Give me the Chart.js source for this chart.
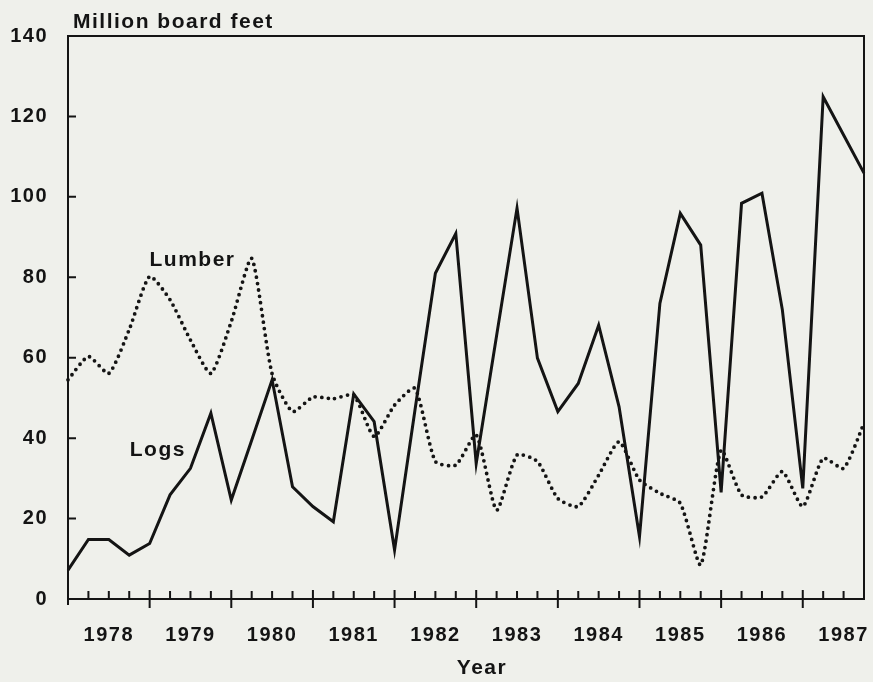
<!DOCTYPE html>
<html lang="en">
<head>
  <meta charset="UTF-8" />
  <title>Million board feet</title>
  <script src="https://cdn.jsdelivr.net/npm/chart.js"></script>
  <style>
    * { box-sizing: border-box; }
    body {
      margin: 0;
      background: #eff0eb;
    }
    canvas { display: block; }
  </style>
</head>
<body>
  <canvas id="lineChart" width="873" height="682"></canvas>

  <script>
    // quarterly values, 1978 Q1 .. 1987 Q4
    const years = ['1978', '1979', '1980', '1981', '1982', '1983', '1984', '1985', '1986', '1987'];
    const quarters = years.flatMap(y => ['Q1', 'Q2', 'Q3', 'Q4'].map(q => y + ' ' + q));

    const logs = [
      7.2, 14.8, 14.8, 10.9, 13.8, 25.9, 32.5, 46.2, 24.6, 39.5,
      54.5, 27.9, 23, 19.2, 51, 44.1, 12.2, 47, 81, 90.9,
      33.7, 65.5, 97.2, 59.9, 46.6, 53.6, 68.1, 47.8, 15.5, 73.5,
      95.9, 88, 26.5, 98.4, 100.9, 71.9, 27.5, 124.9, 115.4, 105.9
    ];
    const lumber = [
      54.5, 60.3, 56.1, 67, 80.2, 74.4, 64.4, 56.1, 69, 84.7,
      56, 46.6, 50.2, 49.8, 50.7, 40.4, 48.2, 52.4, 34.2, 33.3,
      40.8, 22.1, 35.8, 34.2, 25, 23, 30.8, 39.1, 29.6, 26.3,
      23.8, 8.5, 37, 25.9, 25.4, 31.7, 23, 35, 32.5, 43.7
    ];
    const yTicks = [0, 20, 40, 60, 80, 100, 120, 140];

    const ink = '#141414';
    const fontFamily = '"Liberation Sans", Arial, sans-serif';

    const framePlugin = {
      id: 'frame',
      beforeDraw(chart) {
        chart.ctx.letterSpacing = '1.5px';
      },
      afterDraw(chart) {
        const ctx = chart.ctx;
        const a = chart.chartArea;
        const xs = chart.scales.x;
        const ys = chart.scales.y;
        ctx.save();
        ctx.strokeStyle = ink;
        ctx.lineWidth = 2;
        ctx.strokeRect(a.left, a.top, a.right - a.left, a.bottom - a.top);

        ctx.beginPath();
        ctx.moveTo(a.left, a.bottom);
        ctx.lineTo(a.left, a.bottom + 6);
        quarters.forEach((q, i) => {
          if (i === 0) return;
          const px = xs.getPixelForValue(i);
          if (i % 4 === 0) {
            ctx.moveTo(px, a.bottom - 9);
            ctx.lineTo(px, a.bottom + 9);
          } else {
            ctx.moveTo(px, a.bottom - 8);
            ctx.lineTo(px, a.bottom);
          }
        });
        yTicks.slice(1, -1).forEach(v => {
          const py = ys.getPixelForValue(v);
          ctx.moveTo(a.left, py);
          ctx.lineTo(a.left + 8, py);
        });
        ctx.stroke();

        ctx.fillStyle = ink;
        ctx.font = 'bold 21px ' + fontFamily;
        ctx.letterSpacing = '1.5px';
        ctx.textBaseline = 'alphabetic';
        ctx.textAlign = 'left';
        ctx.fillText('Million board feet', a.left + 5, a.top - 8);

        ctx.textAlign = 'center';
        ctx.textBaseline = 'middle';
        ctx.fillText('Lumber', xs.getPixelForValue(6.1), ys.getPixelForValue(84.3));
        ctx.fillText('Logs', xs.getPixelForValue(4.4), ys.getPixelForValue(37));
        ctx.fillText('Year', 482, 668);
        ctx.restore();
      }
    };

    new Chart(document.getElementById('lineChart'), {
      type: 'line',
      data: {
        labels: quarters,
        datasets: [
          {
            label: 'Logs',
            data: logs,
            borderColor: ink,
            borderWidth: 3,
            borderJoinStyle: 'miter',
            pointRadius: 0,
            tension: 0,
            fill: false
          },
          {
            label: 'Lumber',
            data: lumber,
            borderColor: ink,
            borderWidth: 3.8,
            borderDash: [0, 6.5],
            borderCapStyle: 'round',
            pointRadius: 0,
            tension: 0.2,
            fill: false
          }
        ]
      },
      options: {
        responsive: false,
        animation: false,
        devicePixelRatio: 1,
        layout: { padding: { top: 36, right: 9, left: 0, bottom: 0 } },
        plugins: {
          legend: { display: false },
          tooltip: { enabled: false }
        },
        scales: {
          x: {
            type: 'category',
            offset: false,
            grid: { display: false, drawTicks: false },
            border: { display: false },
            ticks: {
              autoSkip: false,
              maxRotation: 0,
              padding: 24,
              color: ink,
              font: { family: fontFamily, size: 20, weight: 'bold' },
              callback: (v, i) => (i % 4 === 2 ? years[Math.floor(i / 4)] : '')
            },
            afterFit: s => {
              s.height = 83;
              s.paddingLeft = 0;
              s.paddingRight = 0;
            }
          },
          y: {
            min: 0,
            max: 140,
            grid: { display: false, drawTicks: false },
            border: { display: false },
            ticks: {
              stepSize: 20,
              padding: 20,
              color: ink,
              font: { family: fontFamily, size: 20, weight: 'bold' }
            },
            afterFit: s => {
              s.width = 68;
              s.paddingTop = 0;
              s.paddingBottom = 0;
            }
          }
        }
      },
      plugins: [framePlugin]
    });
  </script>
</body>
</html>
